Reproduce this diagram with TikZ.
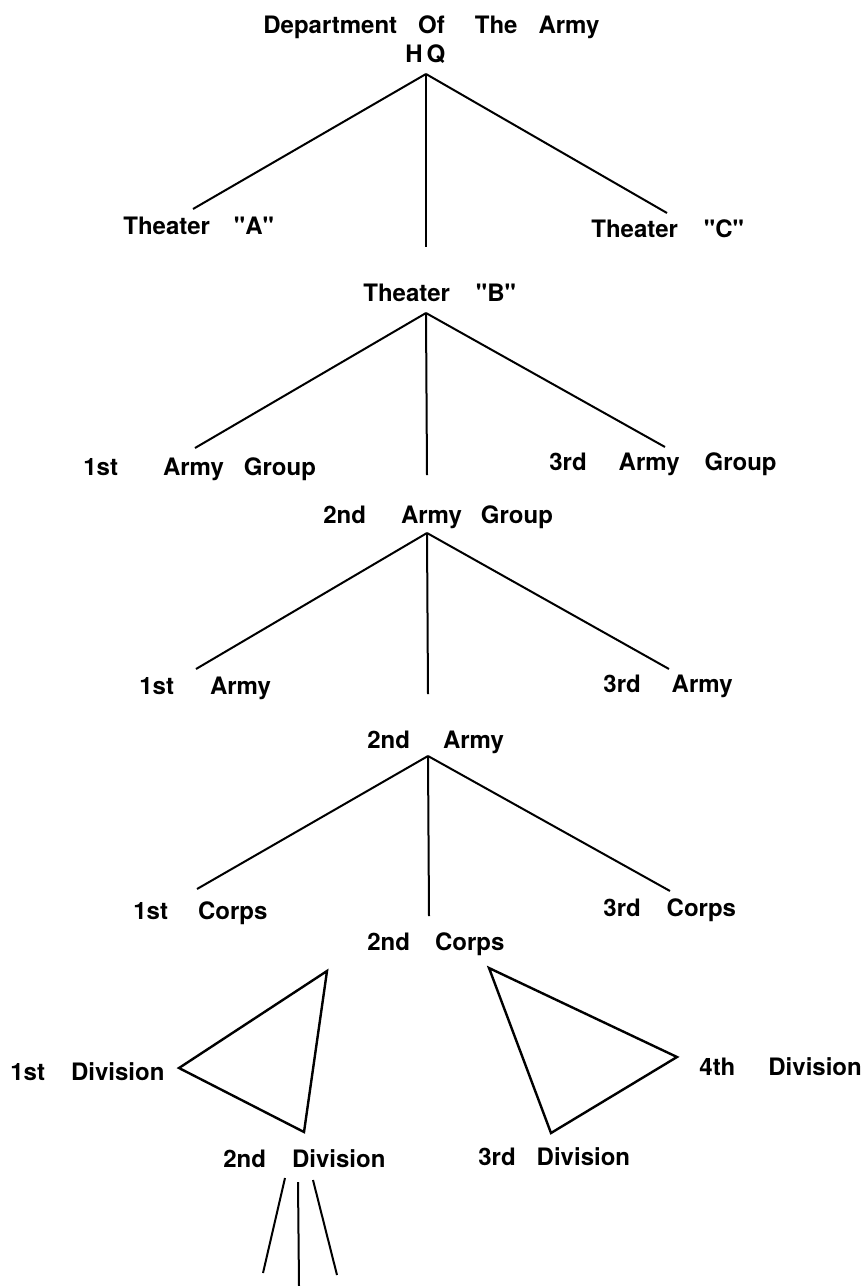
\documentclass[tikz,border=0pt]{standalone}
\usepackage{fontspec}
\newfontfamily\lblfont{TeX Gyre Heros}
\newcommand{\wgap}[1]{\hspace*{#1pt}}

\begin{document}
\begin{tikzpicture}[x=0.5pt,y=-0.5pt]

      \useasboundingbox (0,0) rectangle (864,1286);

      \begin{scope}[every node/.style={font=\lblfont\fontsize{12}{14}\selectfont\bfseries,inner sep=0pt,anchor=base west}]
        \node (dept) at (263,33)   {Department\wgap{10.5}Of\wgap{15}The\wgap{10.5}Army};
        \node (hq)   at (405,62)   {H\wgap{2}Q};
        \node (thA)  at (123,234)  {Theater\wgap{12}"A"};
        \node (thB)  at (363,301)  {Theater\wgap{13}"B"};
        \node (thC)  at (591,237)  {Theater\wgap{13}"C"};
        \node (ag1)  at (83,475)   {1st\wgap{22.5}Army\wgap{10}Group};
        \node (ag2)  at (323,523)  {2nd\wgap{17.5}Army\wgap{9.5}Group};
        \node (ag3)  at (549,470)  {3rd\wgap{16}Army\wgap{12.5}Group};
        \node (ar1)  at (139,694)  {1st\wgap{18}Army};
        \node (ar2)  at (367,748)  {2nd\wgap{16.5}Army};
        \node (ar3)  at (603,692)  {3rd\wgap{15.5}Army};
        \node (co1)  at (133,919)  {1st\wgap{15}Corps};
        \node (co2)  at (367,950)  {2nd\wgap{12.5}Corps};
        \node (co3)  at (603,916)  {3rd\wgap{13}Corps};
        \node (dv1)  at (10,1080)  {1st\wgap{13}Division};
        \node (dv2)  at (223,1167) {2nd\wgap{13}Division};
        \node (dv3)  at (478,1165) {3rd\wgap{10.5}Division};
        \node (dv4)  at (699,1075) {4th\wgap{16.5}Division};
      \end{scope}

      % branch points
      \coordinate (hqT)  at (426,74);
      \coordinate (thAE) at (193,209);
      \coordinate (thBE) at (426,247);
      \coordinate (thCE) at (667,213);
      \coordinate (thBT) at (426,313);
      \coordinate (ag1E) at (195,448);
      \coordinate (ag2E) at (427,475);
      \coordinate (ag3E) at (665,447);
      \coordinate (ag2T) at (427,533);
      \coordinate (ar1E) at (196,669);
      \coordinate (ar2E) at (428,694);
      \coordinate (ar3E) at (669,669);
      \coordinate (ar2T) at (428,756);
      \coordinate (co1E) at (197,889);
      \coordinate (co2E) at (429,916);
      \coordinate (co3E) at (670,891);

      % triangles
      \coordinate (lt1) at (327,971);
      \coordinate (lt2) at (179,1068);
      \coordinate (lt3) at (304,1132);
      \coordinate (rt1) at (489,968);
      \coordinate (rt2) at (677,1057);
      \coordinate (rt3) at (551,1133);

      % below 2nd Division
      \coordinate (dvA) at (285,1178);
      \coordinate (dvB) at (298,1182);
      \coordinate (dvC) at (313,1180);
      \coordinate (dvAE) at (263,1273);
      \coordinate (dvBE) at (299,1286);
      \coordinate (dvCE) at (337,1275);

      \begin{scope}[every edge/.style={draw,line width=1pt}]
        \path (hqT)  edge (thAE) edge (thBE) edge (thCE);
        \path (thBT) edge (ag1E) edge (ag2E) edge (ag3E);
        \path (ag2T) edge (ar1E) edge (ar2E) edge (ar3E);
        \path (ar2T) edge (co1E) edge (co2E) edge (co3E);
        \path (dvA)  edge (dvAE);
        \path (dvB)  edge (dvBE);
        \path (dvC)  edge (dvCE);
      \end{scope}

      \draw[line width=1.2pt,line join=miter] (lt1) -- (lt2) -- (lt3) -- cycle;
      \draw[line width=1.2pt,line join=miter] (rt1) -- (rt2) -- (rt3) -- cycle;

    \end{tikzpicture}
\end{document}
